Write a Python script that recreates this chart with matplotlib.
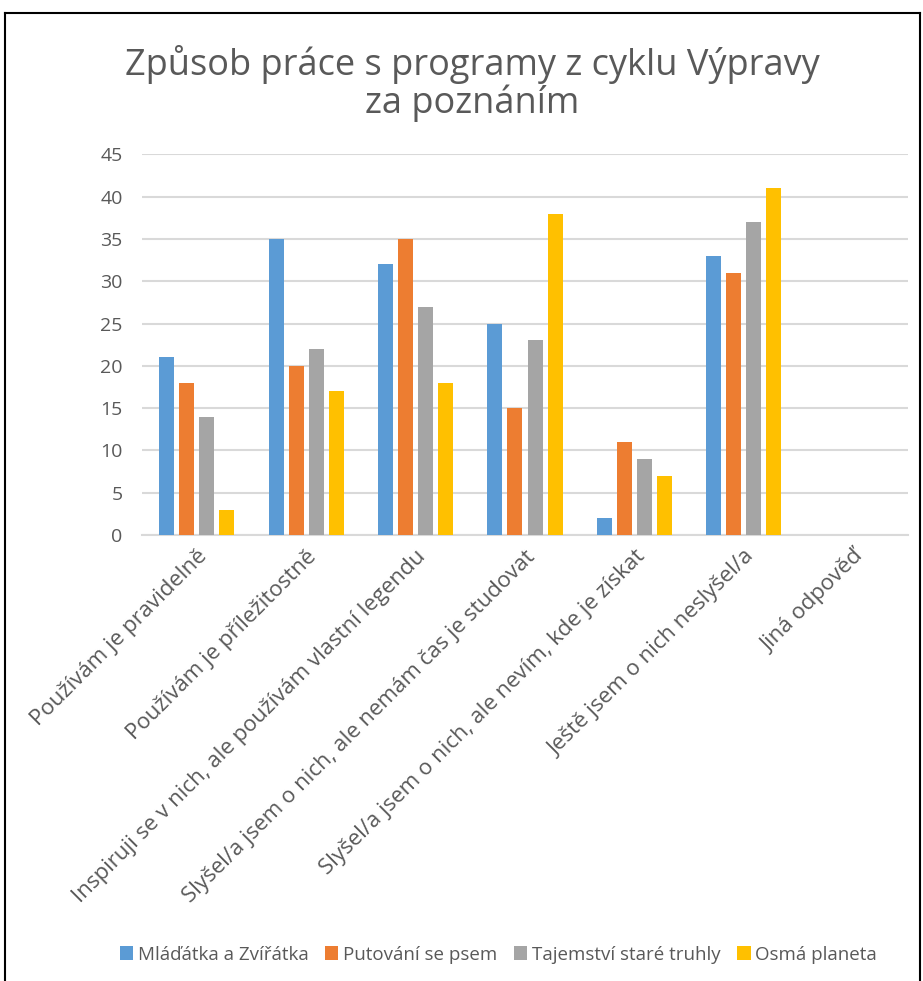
import matplotlib
matplotlib.use("Agg")
import matplotlib.pyplot as plt
from matplotlib.lines import Line2D
import numpy as np

categories = [
    "Používám je pravidelně",
    "Používám je příležitostně",
    "Inspiruji se v nich, ale používám vlastní legendu",
    "Slyšel/a jsem o nich, ale nemám čas je studovat",
    "Slyšel/a jsem o nich, ale nevím, kde je získat",
    "Ještě jsem o nich neslyšel/a",
    "Jiná odpověď",
]
series_names = ["Mláďátka a Zvířátka", "Putování se psem",
                "Tajemství staré truhly", "Osmá planeta"]
mladatka = [21, 35, 32, 25, 2, 33, 0]
putovani = [18, 20, 35, 15, 11, 31, 0]
tajemstvi = [14, 22, 27, 23, 9, 37, 0]
osma = [3, 17, 18, 38, 7, 41, 0]
colors = ["#5B9BD5", "#ED7D31", "#A5A5A5", "#FFC000"]

plt.rcParams['font.family'] = ['Open Sans', 'DejaVu Sans']
text_color = "#595959"

fig = plt.figure(figsize=(9.23, 9.81), dpi=100)
ax = fig.add_axes([0.1538, 0.4546, 0.83, 0.388])

ind = np.arange(len(categories))
width = 0.137
step = 0.183
for i, (vals, name) in enumerate(zip([mladatka, putovani, tajemstvi, osma], series_names)):
    ax.bar(ind + (i - 1.5) * step, vals, width, color=colors[i], label=name, zorder=3)

ax.set_xlim(-0.5, len(categories) - 0.5)
ax.set_ylim(0, 45)
ax.set_yticks(range(0, 46, 5))
ax.grid(axis='y', color="#D9D9D9", linewidth=1.5, zorder=0)
for s in ['top', 'right', 'left']:
    ax.spines[s].set_visible(False)
ax.spines['bottom'].set_color("#D9D9D9")
ax.spines['bottom'].set_linewidth(1.5)
ax.tick_params(axis='both', length=0, colors=text_color)
ax.tick_params(axis='y', pad=14, labelsize=14)
ax.set_xticks(ind)
ax.set_xticklabels(categories, rotation=45, ha='right', rotation_mode='anchor',
                   fontsize=16)
ax.tick_params(axis='x', pad=8)

fig.text(0.512, 0.915, "Způsob práce s programy z cyklu Výpravy\nza poznáním",
         ha='center', va='center', fontsize=26, color=text_color, linespacing=1.0)

fig.legend(loc='center', bbox_to_anchor=(0.54, 0.027), ncol=4, frameon=False,
           fontsize=13.5, labelcolor=text_color, handlelength=0.7, handleheight=0.7,
           handletextpad=0.25, columnspacing=0.9)

# chart border (bottom edge cut off in reference)
x0, x1 = 5 / 923, 920 / 923
ytop = 1 - 13 / 981
for xs, ys in [([x0, x0], [0, ytop]), ([x0, x1], [ytop, ytop]), ([x1, x1], [ytop, 0])]:
    fig.add_artist(Line2D(xs, ys, color="black", linewidth=1.5, transform=fig.transFigure))

fig.savefig("out.png", dpi=100, facecolor="white")
